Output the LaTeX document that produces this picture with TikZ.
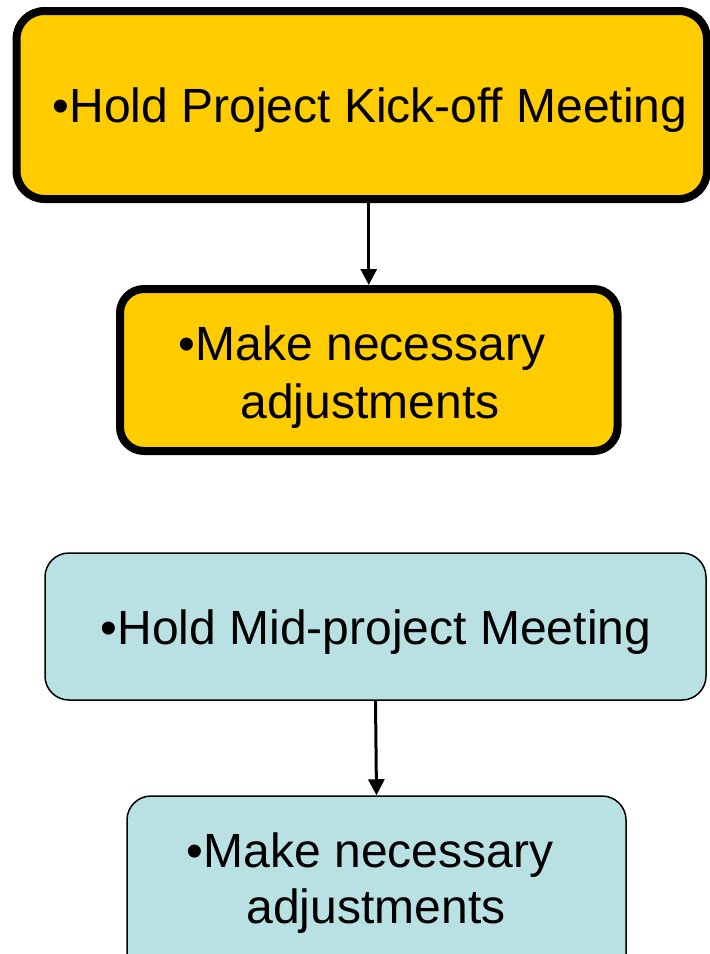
\documentclass[tikz,border=0pt]{standalone}
\usepackage{fontspec}
\setmainfont{Liberation Sans}
\usetikzlibrary{arrows.meta}
\definecolor{boxyellow}{HTML}{FFCC00}
\definecolor{boxblue}{HTML}{B9E0E3}
\begin{document}
\begin{tikzpicture}[x=1pt,y=-1pt,
  yellowbox/.style={draw=black,line width=8pt,fill=boxyellow,rounded corners=28pt,inner sep=0pt},
  bluebox/.style={draw=black,line width=1.5pt,fill=boxblue,rounded corners=24pt,inner sep=0pt},
  label/.style={anchor=base,inner sep=0pt,font=\fontsize{48}{58}\selectfont},
  conn/.style={line width=3pt,-{Triangle[length=16pt,width=16pt]}}]
\useasboundingbox (0,0) rectangle (710,954);
\node[yellowbox,minimum width=690.5pt,minimum height=188pt] (b1) at (361.75,105) {};
\node[yellowbox,minimum width=497.5pt,minimum height=162pt,rounded corners=24pt] (b2) at (368.75,370) {};
\node[bluebox,minimum width=661pt,minimum height=147pt] (b3) at (375.5,626.5) {};
\node[bluebox,minimum width=499pt,minimum height=190pt] (b4) at (376.5,891) {};
\node[label] (t1) at (370,122) {•Hold Project Kick-off Meeting};
\node[label] (t2a) at (362,360) {•Make necessary};
\node[label] (t2b) at (370,418) {adjustments};
\node[label] (t3) at (376,644) {•Hold Mid-project Meeting};
\node[label] (t4a) at (370,867) {•Make necessary};
\node[label] (t4b) at (376,923) {adjustments};
\draw[conn] (b1.south -| b2.north) -- (b2.north);
\draw[conn] (b3.south) -- (b4.north);
\end{tikzpicture}
\end{document}
